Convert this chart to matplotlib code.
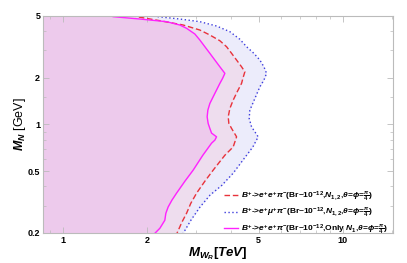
"""Exclusion regions in the (M_WR, M_N) plane for B+ -> l+ l+ pi- searches."""
import matplotlib
matplotlib.use("Agg")
import matplotlib.pyplot as plt
from matplotlib.ticker import FixedLocator, NullFormatter

plt.rcParams["font.family"] = ["Liberation Sans", "DejaVu Sans"]
plt.rcParams["font.weight"] = "bold"
plt.rcParams["mathtext.fontset"] = "custom"
plt.rcParams["mathtext.rm"] = "Liberation Sans:bold"
plt.rcParams["mathtext.it"] = "Liberation Sans:italic:bold"
plt.rcParams["mathtext.bf"] = "Liberation Sans:bold"

# curves: (M_WR [TeV], M_N [GeV]), top to bottom
only_n1_x = [1.45, 1.512, 1.884, 2.346, 2.617, 2.766, 2.961, 3.085, 3.215, 3.350, 3.490,
             3.637, 3.790, 3.719, 3.637, 3.490, 3.350, 3.295, 3.276, 3.303, 3.350,
             3.397, 3.539, 3.490, 3.397, 3.162, 2.920, 2.728, 2.547, 2.451, 2.377,
             2.333, 2.313, 2.221, 2.131, 2.096]
only_n1_y = [5.1, 4.95, 4.78, 4.596, 4.374, 4.165, 3.828, 3.501, 3.170, 2.873, 2.601,
             2.354, 2.135, 1.982, 1.840, 1.586, 1.367, 1.237, 1.120, 1.016, 0.943,
             0.880, 0.833, 0.793, 0.758, 0.634, 0.508, 0.431, 0.361, 0.325, 0.294,
             0.268, 0.2415, 0.2145, 0.199, 0.19]

ee_x = [1.75, 1.834, 2.221, 2.690, 3.085, 3.350, 3.637, 3.843, 4.005, 4.173, 4.347,
        4.467, 4.405, 4.347, 4.194, 4.058, 3.949, 3.895, 3.916, 4.005, 4.173, 4.058,
        3.790, 3.442, 3.215, 3.003, 2.865, 2.766, 2.661, 2.556, 2.533]
ee_y = [5.1, 4.95, 4.664, 4.374, 4.061, 3.771, 3.464, 3.170, 2.873, 2.601, 2.354,
        2.186, 2.012, 1.840, 1.624, 1.436, 1.269, 1.120, 1.016, 0.943, 0.833, 0.717,
        0.634, 0.508, 0.431, 0.361, 0.311, 0.268, 0.2344, 0.199, 0.19]

emu_x = [2.12, 2.189, 2.617, 3.085, 3.539, 3.949, 4.288, 4.530, 4.810, 5.053, 5.223,
         5.339, 5.223, 5.053, 4.850, 4.654, 4.628, 4.719, 4.983, 4.770, 4.394, 4.058,
         3.698, 3.350, 3.085, 2.865, 2.690, 2.661]
emu_y = [5.1, 4.95, 4.78, 4.596, 4.310, 3.961, 3.538, 3.170, 2.873, 2.601, 2.354,
         2.135, 1.932, 1.749, 1.472, 1.237, 1.094, 0.966, 0.833, 0.717, 0.589, 0.486,
         0.406, 0.350, 0.293, 0.2415, 0.199, 0.19]

labels = [
    r"$B^{+}$->$e^{+}e^{+}\pi^{-}$(Br~$10^{-12}$,$N_{1,2}$,$\theta$=$\phi$=$\frac{\pi}{4}$)",
    r"$B^{+}$->$e^{+}\mu^{+}\pi^{-}$(Br~$10^{-12}$,$N_{1,2}$,$\theta$=$\phi$=$\frac{\pi}{4}$)",
    r"$B^{+}$->$e^{+}e^{+}\pi^{-}$(Br~$10^{-12}$,Only $N_{1}$,$\theta$=$\phi$=$\frac{\pi}{4}$)",
]

x_ticks = [1, 2, 5, 10]
y_ticks = [0.2, 0.5, 1, 2, 5]
x_lim = (0.85, 15.1)
y_lim = (0.2, 5)

fig = plt.figure(figsize=(4.07, 2.63), dpi=100)
ax = fig.add_axes([0.1057, 0.1141, 0.86, 0.8251])
ax.set_xscale("log")
ax.set_yscale("log")

ax.fill_betweenx(emu_y, 0.5, emu_x, color="#ECECFB", lw=0)
ax.fill_betweenx(ee_y, 0.5, ee_x, color="#EEDDEE", lw=0)
ax.fill_betweenx(only_n1_y, 0.5, only_n1_x, color="#EDCAEC", lw=0)

ax.plot(ee_x, ee_y, color="#E8333B", lw=1.0, dashes=(4, 2), label=labels[0])
ax.plot(emu_x, emu_y, color="#3D3DDD", lw=1.0, dashes=(1, 1.8), label=labels[1])
ax.plot(only_n1_x, only_n1_y, color="#FF22FF", lw=1.0, label=labels[2])

ax.set_xlim(*x_lim)
ax.set_ylim(*y_lim)

ax.xaxis.set_major_locator(FixedLocator(x_ticks))
ax.xaxis.set_minor_locator(FixedLocator([0.9, 3, 4, 6, 7, 8, 9, 15]))
ax.xaxis.set_minor_formatter(NullFormatter())
ax.set_xticklabels([str(v) for v in x_ticks])
ax.yaxis.set_major_locator(FixedLocator(y_ticks))
ax.yaxis.set_minor_locator(FixedLocator([0.3, 0.4, 0.6, 0.7, 0.8, 0.9, 1.5, 3, 4]))
ax.yaxis.set_minor_formatter(NullFormatter())
ax.set_yticklabels(["0.2", "0.5", "1", "2", "5"])

for s in ax.spines.values():
    s.set_color("#BBBBBB")
    s.set_linewidth(0.8)
ax.tick_params(which="both", direction="in", top=True, right=True, color="#BBBBBB",
               labelsize=6.5, pad=2)
ax.tick_params(which="major", length=4, width=0.6)
ax.tick_params(which="minor", length=2, width=0.5)

ax.set_xlabel(r"$M_{W_R}[TeV]$", fontsize=9.5, labelpad=0.5)
ax.set_ylabel(r"$M_N$ [GeV]", fontsize=9, labelpad=0)

ax.legend(loc="lower right", bbox_to_anchor=(1.0, -0.035), frameon=False, fontsize=6.0,
          handlelength=1.7, handletextpad=0.4, labelspacing=0.3, borderaxespad=0.2)

fig.savefig("out.png", dpi=100)
